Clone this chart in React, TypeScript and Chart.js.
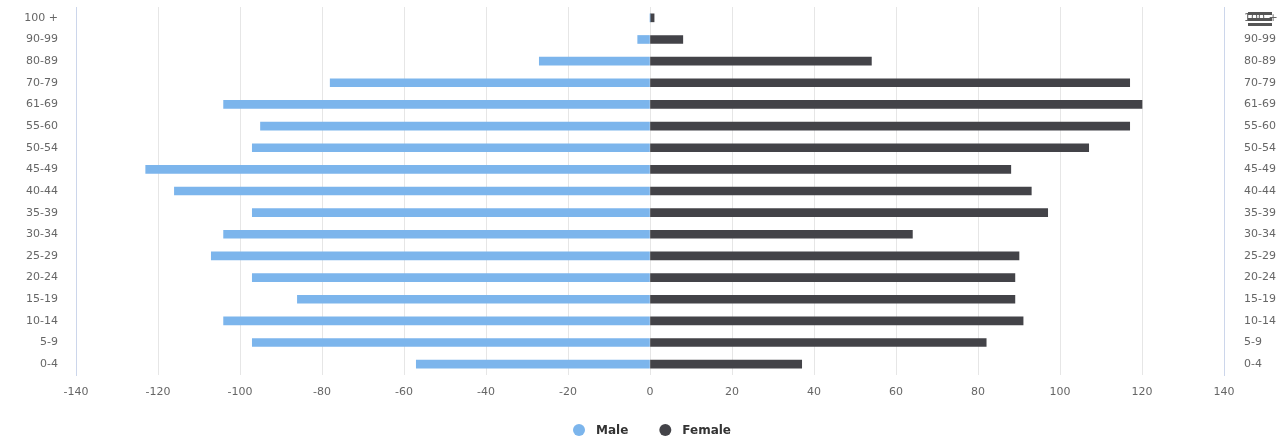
import React, { useEffect, useRef } from "react";
import { Chart, registerables } from "chart.js";

Chart.register(...registerables);

const categories = [
  "100 +", "90-99", "80-89", "70-79", "61-69", "55-60", "50-54", "45-49", "40-44",
  "35-39", "30-34", "25-29", "20-24", "15-19", "10-14", "5-9", "0-4",
];
const maleValues = [0, -3, -27, -78, -104, -95, -97, -123, -116, -97, -104, -107, -97, -86, -104, -97, -57];
const femaleValues = [1, 8, 54, 117, 120, 117, 107, 88, 93, 97, 64, 90, 89, 89, 91, 82, 37];
const xMin = -140;
const xMax = 140;
const xStep = 20;

const TEXT = "#666666";
const FONT = "'DejaVu Sans', sans-serif";

const legendPlugin = {
  id: "customLegend",
  afterDraw(chart: any) {
    const ctx = chart.ctx;
    const ds = chart.data.datasets;
    ctx.save();
    ctx.font = `bold 12px ${FONT}`;
    ctx.textBaseline = "middle";
    const r = 6;
    const textGap = 11;
    const itemGap = 31;
    const widths = ds.map((d: any) => 2 * r + textGap + ctx.measureText(d.label).width);
    const total = widths.reduce((a: number, b: number) => a + b, 0) + itemGap * (ds.length - 1);
    const area = chart.chartArea;
    let x = (area.left + area.right) / 2 + 2 - total / 2;
    const y = chart.height - 9;
    ds.forEach((d: any, i: number) => {
      ctx.fillStyle = d.backgroundColor;
      ctx.beginPath();
      ctx.arc(x + r, y, r, 0, Math.PI * 2);
      ctx.fill();
      ctx.fillStyle = "#333333";
      ctx.textAlign = "left";
      ctx.fillText(d.label, x + 2 * r + textGap, y + 1);
      x += widths[i] + itemGap;
    });
    ctx.restore();
  },
};

export default function App() {
  const ref = useRef<HTMLCanvasElement | null>(null);
  useEffect(() => {
    document.body.style.margin = "0";
    const ctx = ref.current!.getContext("2d")!;
    const chart = new Chart(ctx, {
      type: "bar",
      data: {
        labels: categories,
        datasets: [
          { label: "Male", data: maleValues, backgroundColor: "#7cb5ec", borderWidth: 0, barThickness: 8, yAxisID: "y" },
          { label: "Female", data: femaleValues, backgroundColor: "#434348", borderWidth: 0, barThickness: 8, yAxisID: "y" },
        ],
      },
      options: {
        indexAxis: "y",
        animation: false,
        responsive: false,
        maintainAspectRatio: false,
        layout: { padding: { top: 7, bottom: 30, left: 0, right: 0 } },
        plugins: {
          tooltip: { enabled: false },
          legend: { display: false },
        },
        scales: {
          x: {
            type: "linear",
            stacked: true,
            min: xMin,
            max: xMax,
            ticks: { stepSize: xStep, color: TEXT, font: { family: FONT, size: 11 }, padding: 11 },
            grid: { color: "#e6e6e6", drawTicks: false },
            border: { display: false },
            afterFit: (s: any) => { s.height = 34; s.paddingLeft = 0; s.paddingRight = 0; },
          },
          y: {
            type: "category",
            stacked: true,
            position: "left",
            ticks: { color: TEXT, font: { family: FONT, size: 11 }, padding: 18 },
            grid: { display: false, drawTicks: false },
            border: { display: true, color: "#ccd6eb" },
            afterFit: (s: any) => { s.width = 76; s.paddingTop = 0; s.paddingBottom = 0; },
          },
          y2: {
            type: "category",
            position: "right",
            labels: categories,
            ticks: { color: TEXT, font: { family: FONT, size: 11 }, padding: 20 },
            grid: { display: false, drawTicks: false },
            border: { display: true, color: "#ccd6eb" },
            afterFit: (s: any) => { s.width = 64; s.paddingTop = 0; s.paddingBottom = 0; },
          },
        },
      },
      plugins: [legendPlugin],
    });
    return () => chart.destroy();
  }, []);
  return (
    <div style={{ position: "absolute", left: 0, top: 0, width: 1288, height: 439, background: "#fff" }}>
      <canvas ref={ref} width={1288} height={439} style={{ display: "block" }} />
      <div style={{ position: "absolute", left: 1248, top: 12, width: 24, height: 16 }}>
        {[0, 1, 2].map((i) => (
          <div key={i} style={{ position: "absolute", left: 0, top: i * 5.5, width: 24, height: 3, background: "#555" }} />
        ))}
      </div>
    </div>
  );
}
